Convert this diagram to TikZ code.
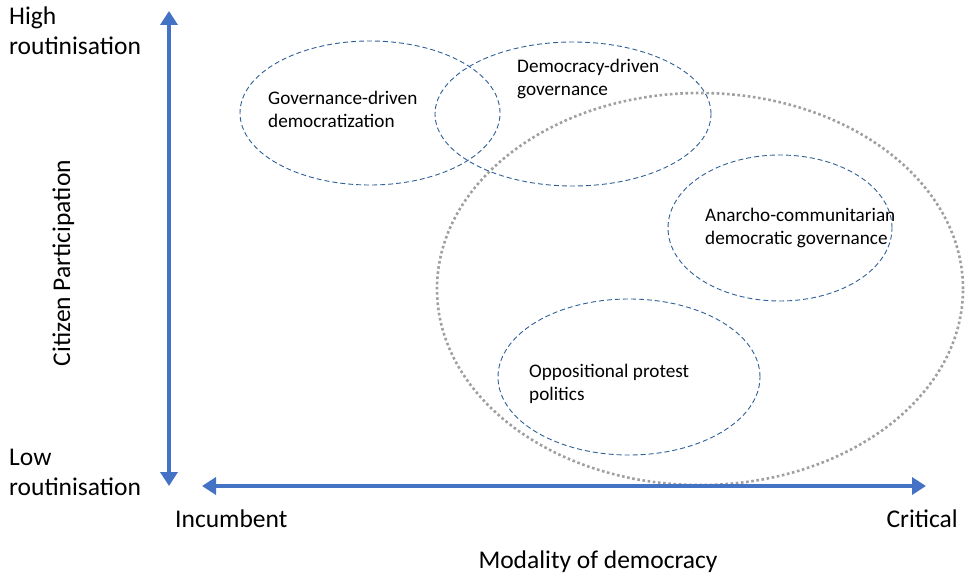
\documentclass[tikz,border=0pt]{standalone}
\usepackage{fontspec}
\setmainfont{Carlito}
\usetikzlibrary{arrows.meta,shapes.geometric}
\definecolor{axisblue}{HTML}{4472C4}
\definecolor{ellblue}{HTML}{2E5F96}
\definecolor{dotgray}{HTML}{A0A0A0}
\tikzset{
  axis/.style={axisblue,line width=4pt,-{Triangle[length=14pt,width=17pt]}},
  zone/.style={ellipse,draw=ellblue,dashed,dash pattern=on 5pt off 3pt,line width=0.9pt,inner sep=0pt},
  bigzone/.style={ellipse,draw=dotgray,line width=2.6pt,dash pattern=on 2.6pt off 2.6pt,inner sep=0pt},
  lbl/.style={font=\fontsize{25.5}{30}\selectfont,inner sep=0pt},
  inlbl/.style={font=\fontsize{19.2}{23}\selectfont,inner sep=0pt,anchor=base west},
}
\begin{document}
\begin{tikzpicture}[x=1pt,y=-1pt]
\useasboundingbox (0,0) rectangle (968,580);
% ellipses
\node[bigzone,minimum width=526pt,minimum height=392pt] (crit) at (700,289) {};
\node[zone,minimum width=260pt,minimum height=144pt] (gdd) at (370,113) {};
\node[zone,minimum width=276pt,minimum height=144pt] (ddg) at (573,114) {};
\node[zone,minimum width=224pt,minimum height=146pt] (acd) at (780,228) {};
\node[zone,minimum width=262pt,minimum height=156pt] (opp) at (629,377) {};
% inner labels
\node[inlbl] (t1a) at (268,105) {Governance-driven};
\node[inlbl] (t1b) at (268,127.5) {democratization};
\node[inlbl] (t2a) at (517,73) {Democracy-driven};
\node[inlbl] (t2b) at (517,96) {governance};
\node[inlbl] (t3a) at (705,221) {Anarcho-communitarian};
\node[inlbl] (t3b) at (705,244) {democratic governance};
\node[inlbl] (t4a) at (529,377) {Oppositional protest};
\node[inlbl] (t4b) at (529,400) {politics};
% axes
\coordinate (vtop) at (169,11);
\coordinate (vbot) at (169,486);
\coordinate (vmid) at (169,250);
\coordinate (hleft) at (202,486);
\coordinate (hright) at (926,486);
\coordinate (hmid) at (560,486);
\draw[axis] (vmid) -- (vtop);
\draw[axis] (vmid) -- (vbot);
\draw[axis] (hmid) -- (hleft);
\draw[axis] (hmid) -- (hright);
% axis labels
\node[lbl,anchor=base west] (higha) at (9,25) {High};
\node[lbl,anchor=base west] (highb) at (9,55) {routinisation};
\node[lbl,anchor=base west] (lowa) at (9,465) {Low};
\node[lbl,anchor=base west] (lowb) at (9,495) {routinisation};
\node[lbl,rotate=90,anchor=base] (cp) at (70,263) {Citizen Participation};
\node[lbl,anchor=base west] (inc) at (175,527) {Incumbent};
\node[lbl,anchor=base east] (crt) at (958,527) {Critical};
\node[lbl,anchor=base] (mod) at (598,568) {Modality of democracy};
\end{tikzpicture}
\end{document}
